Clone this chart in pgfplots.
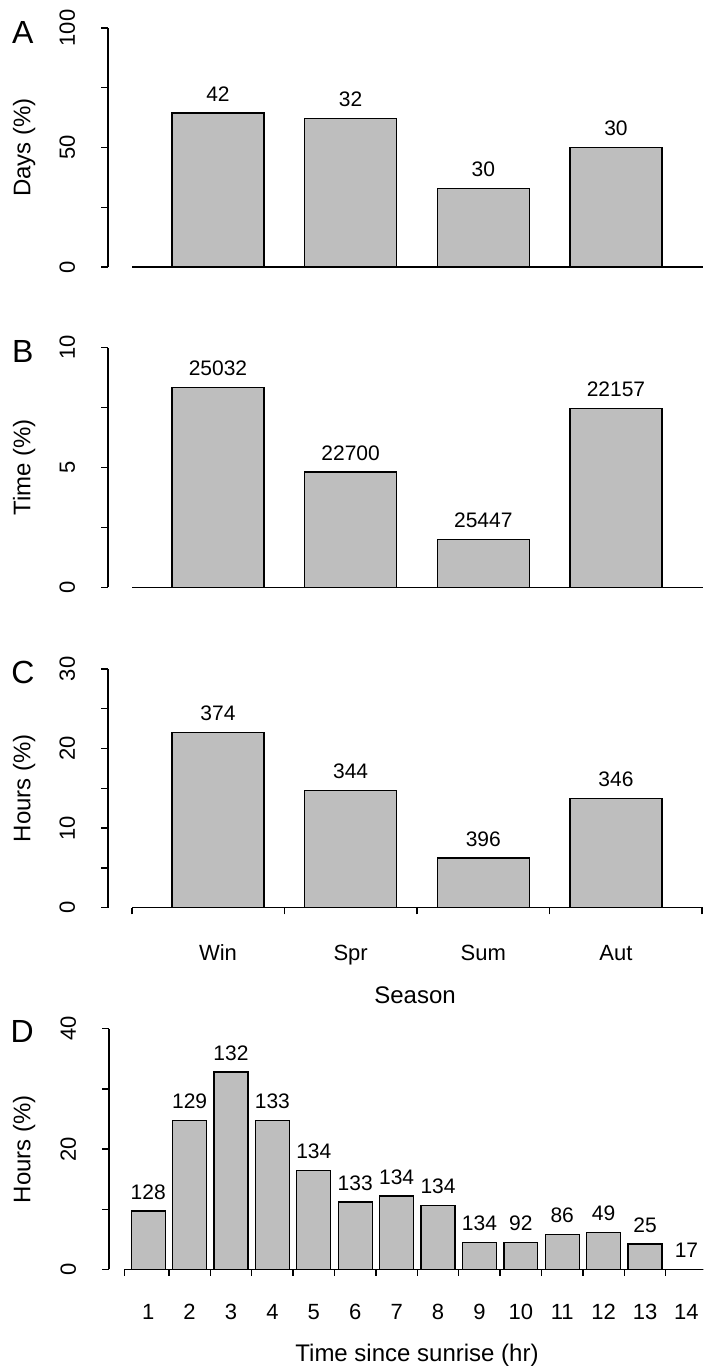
\documentclass[border=0pt]{standalone}
\usepackage{pgfplots}
\pgfplotsset{compat=1.18}
\usepackage{fontspec}
\setmainfont{Liberation Sans}
\definecolor{bargray}{HTML}{BEBEBE}

\pgfplotsset{
  rpanel/.style = {
    scale only axis,
    anchor = south west,
    axis x line = bottom,
    axis y line = left,
    axis line style = {-, line width = 0.65pt, black},
    x axis line style = {draw = none},
    enlargelimits = false,
    clip = false,
    tick align = outside,
    major tick length = 3.3pt,
    minor tick length = 3.3pt,
    tick style = {line width = 0.65pt, black},
    xtick style = {draw = none},
    minor x tick style = {draw = black},
    ymin = 0,
    /pgf/number format/assume math mode = true,
    yticklabel style = {xshift = -13pt, rotate = 90, anchor = south, inner sep = 0pt,
      font = \fontsize{11}{13}\selectfont},
    xticklabel style = {anchor = base, inner sep = 0pt, yshift = -23pt,
      font = \fontsize{11}{13}\selectfont},
    label style = {font = \fontsize{12}{14}\selectfont},
    ylabel style = {at = {(axis description cs:-0.141,0.5)}, anchor = center},
    nodes near coords,
    point meta = explicit symbolic,
    nodes near coords style = {anchor = south, inner sep = 0pt, yshift = 5.5pt,
      font = \fontsize{10.5}{12}\selectfont, black},
  },
  season/.style = {
    rpanel,
    width = 297.5pt,
    xmin = 0.171, xmax = 4.656,
    minor xtick = {0.352,1.5,2.5,3.5,4.648},
  },
  rbar/.style = {ybar, bar width = 0.693, bar shift = 0pt,
    fill = bargray, draw = black, line width = 0.65pt},
}

\begin{document}
\begin{tikzpicture}
\useasboundingbox (0,0) rectangle (351.5pt,-683.5pt);

% A: days
\begin{axis}[season, at = {(54pt,-133.5pt)}, height = 119.5pt,
  ymax = 100, ytick = {0,50,100}, yticklabels = {0,50,100},
  minor ytick = {25,75}, xtick = \empty,
  ylabel = {Days (\%)}]
  \addplot[rbar] table[x = x, y = y, meta = n] {
    x y n
    1 64.4 42
    2 62.2 32
    3 32.9 30
    4 50.1 30
  };
  \draw[line width = 0.65pt] (axis cs:0.352,0) -- (axis cs:4.656,0);
  \node[font = \fontsize{16}{19}\selectfont] at (axis description cs:-0.143,0.983) {A};
\end{axis}

% B: time
\begin{axis}[season, at = {(54pt,-293.65pt)}, height = 119.8pt,
  ymax = 10, ytick = {0,5,10}, yticklabels = {0,5,10},
  minor ytick = {2.5,7.5}, xtick = \empty,
  ylabel = {Time (\%)}]
  \addplot[rbar] table[x = x, y = y, meta = n] {
    x y n
    1 8.35 25032
    2 4.81 22700
    3 2.00 25447
    4 7.47 22157
  };
  \draw[line width = 0.65pt] (axis cs:0.352,0) -- (axis cs:4.656,0);
  \node[font = \fontsize{16}{19}\selectfont] at (axis description cs:-0.143,0.983) {B};
\end{axis}

% C: hours by season
\begin{axis}[season, at = {(54pt,-453.85pt)}, height = 119.4pt,
  ymax = 30, ytick = {0,10,20,30}, yticklabels = {0,10,20,30},
  minor ytick = {5,15,25},
  xtick = {1,2,3,4}, xticklabels = {Win,Spr,Sum,Aut},
  ylabel = {Hours (\%)},
  xlabel = {Season},
  xlabel style = {at = {(axis description cs:0.516,-0.366)}, anchor = center}]
  \addplot[rbar] table[x = x, y = y, meta = n] {
    x y n
    1 22.0 374
    2 14.7 344
    3 6.24 396
    4 13.7 346
  };
  \draw[line width = 0.65pt] (axis cs:0.352,0) -- (axis cs:4.656,0);
  \node[font = \fontsize{16}{19}\selectfont] at (axis description cs:-0.143,0.983) {C};
\end{axis}

% D: hours since sunrise
\begin{axis}[rpanel, at = {(54.5pt,-634.65pt)}, width = 297pt, height = 120.3pt,
  xmin = 0.053, xmax = 14.40,
  ymax = 40, ytick = {0,20,40}, yticklabels = {0,20,40},
  minor ytick = {10,30},
  xtick = {1,...,14}, xticklabels = {1,2,3,4,5,6,7,8,9,10,11,12,13,14},
  minor xtick = {0.423,1.5,2.5,3.5,4.5,5.5,6.5,7.5,8.5,9.5,10.5,11.5,12.5,13.5},
  xticklabel style = {yshift = 1.15pt},
  ylabel = {Hours (\%)},
  ylabel style = {at = {(axis description cs:-0.143,0.5)}},
  xlabel = {Time since sunrise (hr)},
  xlabel style = {at = {(axis description cs:0.5185,-0.356)}, anchor = center}]
  \addplot[rbar, bar width = 0.82] table[x = x, y = y, meta = n] {
    x  y    n
    1  9.7  128
    2  24.7 129
    3  32.8 132
    4  24.7 133
    5  16.4 134
    6  11.2 133
    7  12.2 134
    8  10.6 134
    9  4.5  134
    10 4.5  92
    11 5.8  86
    12 6.15 49
    13 4.2  25
    14 0    17
  };
  \draw[line width = 0.65pt] (axis cs:0.423,0) -- (axis cs:14.40,0);
  \node[font = \fontsize{16}{19}\selectfont] at (axis description cs:-0.146,0.989) {D};
\end{axis}
\end{tikzpicture}
\end{document}
